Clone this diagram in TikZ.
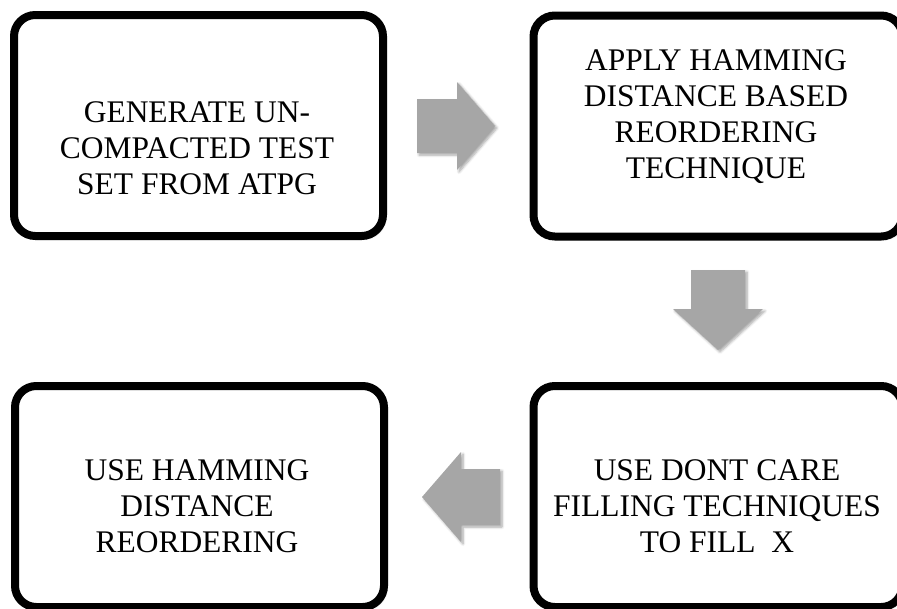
\documentclass[tikz,border=0pt]{standalone}
\usepackage{fontspec}
\setmainfont{Liberation Serif}
\usetikzlibrary{shadows.blur}
\definecolor{arrowgray}{HTML}{A6A6A6}
\tikzset{
  stagebox/.style={draw=black, line width=6pt, rounded corners=16pt, fill=white,
    minimum width=276.75pt, minimum height=165.75pt, inner sep=0pt,
    blur shadow={shadow xshift=1.5pt, shadow yshift=-1.5pt, shadow blur steps=6, shadow opacity=35}},
  stagetext/.style={align=center, font=\fontsize{23.6pt}{27pt}\selectfont, inner sep=0pt},
  flowarrow/.style={fill=arrowgray, draw=none,
    blur shadow={shadow xshift=1.5pt, shadow yshift=-1.5pt, shadow blur steps=6, shadow opacity=35}}
}
\begin{document}
\begin{tikzpicture}[x=0.75pt,y=-0.75pt]
\useasboundingbox (0,0) rectangle (897,608);
\clip (0,0) rectangle (897,608);

% process stages
\node[stagebox] (b1) at (198.5,125.5) {};
\node[stagebox] (b2) at (718,126) {};
\node[stagebox] (b3) at (199.5,496.5) {};
\node[stagebox] (b4) at (718,496.5) {};

\node[stagetext] (t1) at (197,148) {GENERATE UN-\\COMPACTED TEST\\SET FROM ATPG};
\node[stagetext] (t2) at (716,117) {APPLY HAMMING\\DISTANCE BASED\\REORDERING\\TECHNIQUE};
\node[stagetext] (t3) at (197,506) {USE HAMMING\\DISTANCE\\REORDERING};
\node[stagetext] (t4) at (717,506) {USE DONT CARE\\FILLING TECHNIQUES\\TO FILL\ \ X};

% block arrows between the stages
\fill[flowarrow] (417,99) -- (457,99) -- (457,82) -- (495,126) -- (457,170) -- (457,153) -- (417,153) -- cycle;
\fill[flowarrow] (691,270) -- (745,270) -- (745,309) -- (763,309) -- (718,350) -- (673,309) -- (691,309) -- cycle;
\fill[flowarrow] (500,469) -- (461,469) -- (461,452) -- (422,497) -- (461,542) -- (461,525) -- (500,525) -- cycle;
\end{tikzpicture}
\end{document}
